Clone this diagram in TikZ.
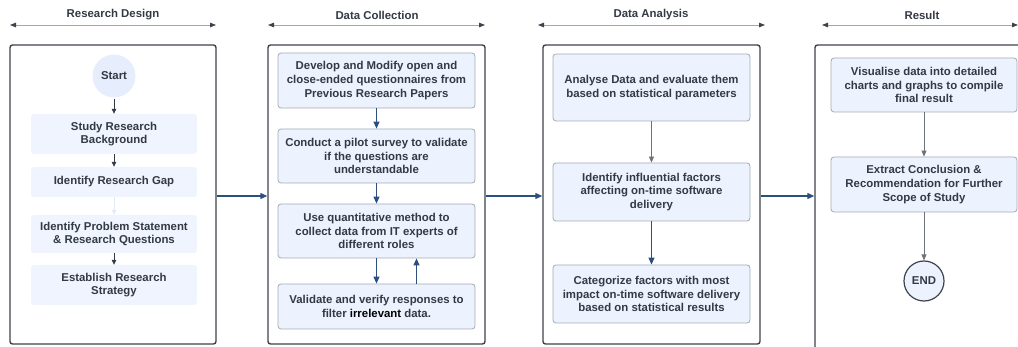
\documentclass[tikz,border=0pt]{standalone}
\usepackage{fontspec}
\setmainfont{Liberation Sans}
\usetikzlibrary{arrows.meta}
\definecolor{txt}{HTML}{333A45}
\definecolor{frm}{HTML}{3D434C}
\definecolor{boxfill}{HTML}{EDF3FE}
\definecolor{rdfill}{HTML}{EFF4FE}
\definecolor{startfill}{HTML}{E6EDFC}
\definecolor{boxline}{HTML}{A3AAB4}
\definecolor{navy}{HTML}{2C4F80}
\definecolor{garrow}{HTML}{6E737A}
\definecolor{faint}{HTML}{E3E9F6}
\tikzset{
  lbl/.style={font=\fontsize{11.4}{13.7}\selectfont\bfseries, text=txt, align=center, inner sep=0pt},
  frame/.style={draw=frm, line width=1.4pt, rounded corners=2.5pt, inner sep=0pt},
  rdbox/.style={lbl, fill=rdfill, rounded corners=3pt, minimum width=166pt},
  stepbox/.style={lbl, fill=boxfill, draw=boxline, line width=0.8pt, rounded corners=3pt, minimum width=197pt},
  resbox/.style={lbl, fill=boxfill, draw=boxline, line width=0.8pt, rounded corners=3pt, minimum width=186pt},
  smallarr/.style={draw=txt, line width=0.7pt, -{Triangle[length=5pt,width=4.5pt]}},
  navyarr/.style={draw=navy, line width=1.2pt, -{Triangle[length=7pt,width=6pt]}},
  grayarr/.style={draw=garrow, line width=0.8pt, -{Triangle[length=6pt,width=5pt]}},
  hdrarr/.style={draw=gray!70, line width=0.8pt, {Triangle[length=6pt,width=4.5pt,color=frm]}-{Triangle[length=6pt,width=4.5pt,color=frm]}},
}
\begin{document}
\begin{tikzpicture}[x=1pt,y=-1pt]
\useasboundingbox (0,0) rectangle (1018,347);
\begin{scope}
\clip (0,0) rectangle (1018,347);
% headers
\node[lbl] (h1) at (113,15) {Research Design};
\node[lbl] (h2) at (377,15) {Data Collection};
\node[lbl] (h3) at (651,15) {Data Analysis};
\node[lbl] (h4) at (922,15) {Result};
\coordinate (h1a) at (10,25); \coordinate (h1b) at (216,25);
\coordinate (h2a) at (268,25); \coordinate (h2b) at (485,25);
\coordinate (h3a) at (538,25); \coordinate (h3b) at (765,25);
\coordinate (h4a) at (822,25); \coordinate (h4b) at (1018,25);
\draw[hdrarr] (h1a) -- (h1b);
\draw[hdrarr] (h2a) -- (h2b);
\draw[hdrarr] (h3a) -- (h3b);
\draw[hdrarr] (h4a) -- (h4b);
% frames
\node[frame, minimum width=206pt, minimum height=299pt] (f1) at (113,194.5) {};
\node[frame, minimum width=217pt, minimum height=299pt] (f2) at (376.5,194.5) {};
\node[frame, minimum width=217pt, minimum height=299pt] (f3) at (651.5,194.5) {};
\node[frame, minimum width=230pt, minimum height=320pt] (f4) at (930,205) {};
% Research design
\node[lbl, circle, fill=startfill, minimum size=43pt] (start) at (114,76) {Start};
\node[rdbox, minimum height=40pt] (s1) at (114,134) {Study Research\\Background};
\node[rdbox, minimum height=30pt] (s2) at (114,182) {Identify Research Gap};
\node[rdbox, minimum height=38pt] (s3) at (114,234) {Identify Problem Statement\\\& Research Questions};
\node[rdbox, minimum height=40pt] (s4) at (114,285) {Establish Research\\Strategy};
\draw[smallarr] ([yshift=-1pt]start.south) -- (s1.north);
\draw[smallarr] (s1) -- (s2);
\draw[smallarr, draw=faint] (s2) -- (s3);
\draw[smallarr] (s3) -- (s4);
% Data collection
\node[stepbox, minimum height=55pt] (d1) at (376.5,80.5) {Develop and Modify open and\\close-ended questionnaires from\\Previous Research Papers};
\node[stepbox, minimum height=54pt] (d2) at (376.5,156) {Conduct a pilot survey to validate\\if the questions are\\understandable};
\node[stepbox, minimum height=54pt] (d3) at (376.5,231) {Use quantitative method to\\collect data from IT experts of\\different roles};
\node[stepbox, minimum height=45pt] (d4) at (376.5,306.5) {Validate and verify responses to\\filter {\color{black}irrelevant} data.};
\draw[navyarr] (d1) -- (d2);
\draw[navyarr] (d2) -- (d3);
\draw[navyarr] (d3) -- (d4);
\draw[navyarr] ([xshift=40pt]d4.north) -- ([xshift=40pt]d3.south);
% Data analysis
\node[stepbox, minimum height=67pt] (a1) at (651.5,87.5) {Analyse Data and evaluate them\\based on statistical parameters};
\node[stepbox, minimum height=58pt] (a2) at (651.5,192) {Identify influential factors\\affecting on-time software\\delivery};
\node[stepbox, minimum height=58pt] (a3) at (651.5,294) {Categorize factors with most\\impact on-time software delivery\\based on statistical results};
\draw[grayarr] (a1) -- (a2);
\draw[navyarr] (a2) -- (a3);
% Result
\node[resbox, minimum height=54pt] (r1) at (924,85) {Visualise data into detailed\\charts and graphs to compile\\final result};
\node[resbox, minimum height=55pt] (r2) at (924,184.5) {Extract Conclusion \&\\Recommendation for Further\\Scope of Study};
\node[lbl, circle, fill=boxfill, draw=frm, line width=1.2pt, minimum size=40pt] (end) at (924,281) {END};
\draw[grayarr] (r1) -- (r2);
\draw[grayarr] (r2) -- (end);
% between frames
\draw[navyarr] ([yshift=-1.5pt]f1.east) -- ([yshift=-1.5pt]f2.west);
\draw[navyarr] ([yshift=-1.5pt]f2.east) -- ([yshift=-1.5pt]f3.west);
\draw[navyarr] ([yshift=-1.5pt]f3.east) -- ([yshift=-1.5pt]f3.east -| f4.west);
\end{scope}
\end{tikzpicture}
\end{document}
